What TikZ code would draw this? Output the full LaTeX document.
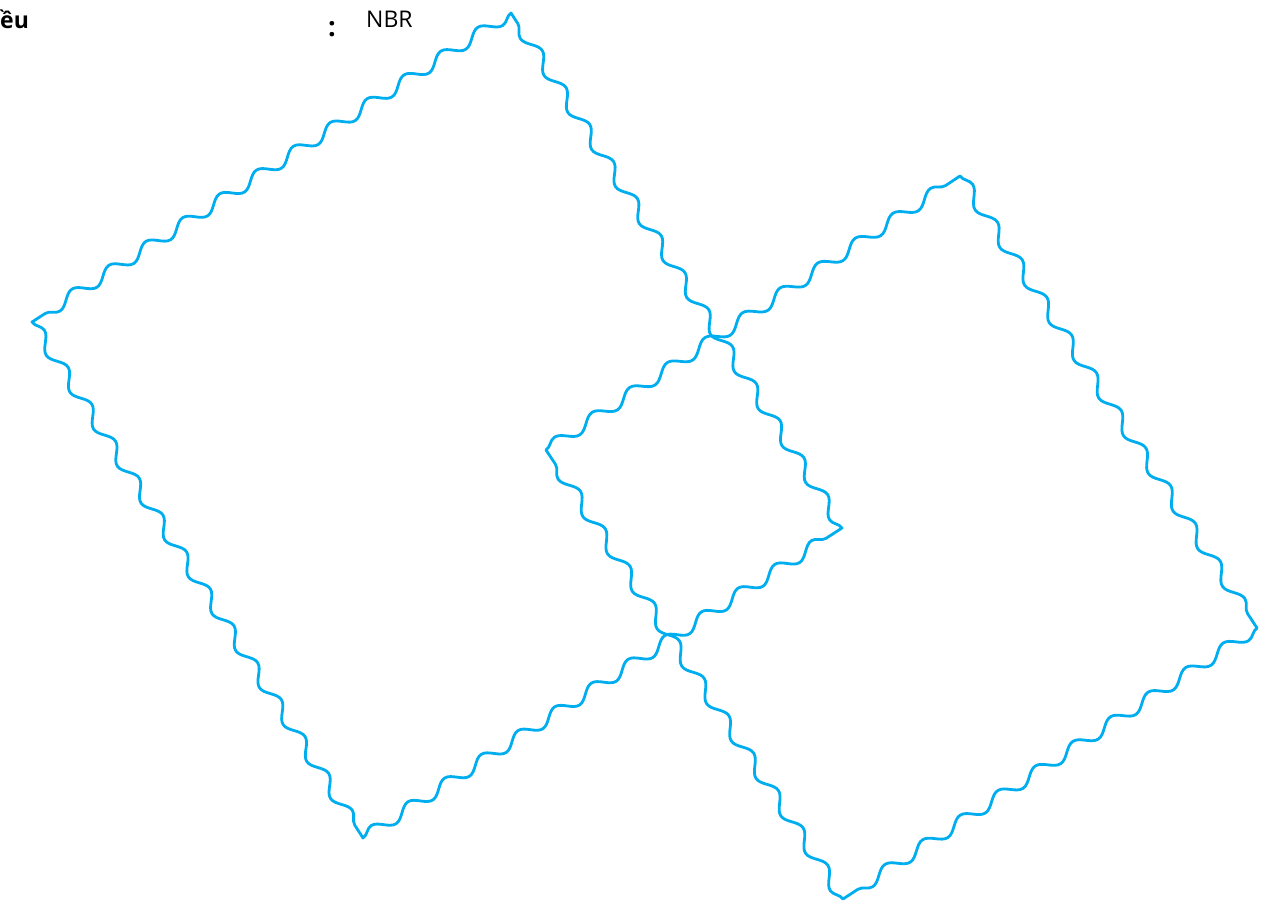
\documentclass[tikz,border=0pt]{standalone}
\usepackage{fontspec}
\setmainfont{Open Sans}
\usetikzlibrary{decorations.pathmorphing}
\definecolor{wavecol}{RGB}{0,174,239}
\begin{document}
\begin{tikzpicture}[x=1pt,y=-1pt,
  wavy/.style={draw=wavecol, line width=2.8pt, line join=round, line cap=round},
  sn/.style={decoration={snake, segment length=#1, amplitude=6pt}},
  lbl/.style={inner sep=0pt, font=\fontsize{23}{27}\selectfont}]
\useasboundingbox (0,0) rectangle (1281,904);
% left rectangle
\coordinate (A) at (511,13);
\coordinate (B) at (32,322);
\coordinate (C) at (363,838);
\coordinate (D) at (842,528);
% right rectangle
\coordinate (E) at (960,176);
\coordinate (F) at (1257,628);
\coordinate (G) at (843,899);
\coordinate (H) at (546,450);
\path[wavy] (A) decorate[sn=43.9pt]{-- (B)} decorate[sn=43.88pt]{-- (C)}
  decorate[sn=43.7pt]{-- (D)} decorate[sn=44.0pt]{-- (A)} -- cycle;
\path[wavy] (E) decorate[sn=45.05pt]{-- (F)} decorate[sn=44.92pt]{-- (G)}
  decorate[sn=44.85pt]{-- (H)} decorate[sn=45.1pt]{-- (E)} -- cycle;
\node[lbl, font=\fontsize{23}{27}\selectfont\bfseries, anchor=base west] (t1) at (0,29) {ều};
\node[lbl, font=\fontsize{27}{30}\selectfont\bfseries, anchor=base west] (t2) at (328,37) {:};
\node[lbl, anchor=base west] (t3) at (366,28) {NBR};
\end{tikzpicture}
\end{document}
